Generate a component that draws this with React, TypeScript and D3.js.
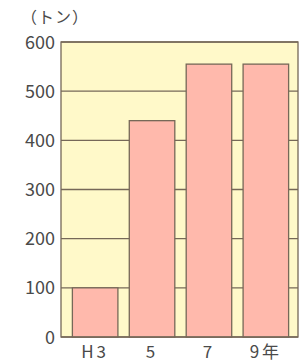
import { useEffect, useRef } from "react";
import * as d3 from "d3";

const categories = ["H3", "5", "7", "9年"];
const values = [100, 440, 555, 555];
const yTicks = [0, 100, 200, 300, 400, 500, 600];
const unitLabel = "（トン）";

const App = () => {
  const ref = useRef<HTMLDivElement>(null);

  useEffect(() => {
    const width = 300;
    const height = 362;
    const left = 61;
    const right = 298;
    const top = 42;
    const bottom = 337;
    const font = "'Noto Sans CJK JP', 'Noto Sans', sans-serif";
    const lineColor = "#766858";

    const x = d3
      .scaleBand<string>()
      .domain(categories)
      .range([left, 300])
      .paddingInner(0.2)
      .paddingOuter(0.2);

    const y = d3.scaleLinear([0, 600], [bottom, top]);

    const svg = d3
      .create("svg")
      .attr("width", width)
      .attr("height", height)
      .attr("viewBox", [0, 0, width, height])
      .style("display", "block")
      .style("background", "#fff");

    // plot background
    svg
      .append("rect")
      .attr("x", left)
      .attr("y", top)
      .attr("width", right - left)
      .attr("height", bottom - top)
      .attr("fill", "#fff9c9");

    // grid lines
    svg
      .append("g")
      .selectAll("line")
      .data(yTicks)
      .join("line")
      .attr("x1", left)
      .attr("x2", right)
      .attr("y1", (d) => y(d))
      .attr("y2", (d) => y(d))
      .attr("stroke", lineColor)
      .attr("stroke-width", 1.3);

    // bars
    svg
      .append("g")
      .selectAll("rect")
      .data(values)
      .join("rect")
      .attr("x", (_, i) => x(categories[i])!)
      .attr("y", (d) => y(d))
      .attr("width", x.bandwidth())
      .attr("height", (d) => y(0) - y(d))
      .attr("fill", "#ffb9ac")
      .attr("stroke", lineColor)
      .attr("stroke-width", 1.3);

    // frame
    svg
      .append("rect")
      .attr("x", left)
      .attr("y", top)
      .attr("width", right - left)
      .attr("height", bottom - top)
      .attr("fill", "none")
      .attr("stroke", lineColor)
      .attr("stroke-width", 1.3);

    // y tick labels
    svg
      .append("g")
      .selectAll("text")
      .data(yTicks)
      .join("text")
      .attr("x", 55)
      .attr("y", (d) => y(d) + 6.5)
      .attr("text-anchor", "end")
      .attr("font-family", font)
      .attr("font-size", 18)
      .attr("fill", "#4a4a4a")
      .text((d) => d);

    // x labels
    svg
      .append("g")
      .selectAll("text")
      .data(categories)
      .join("text")
      .attr("x", (d) => x(d)! + x.bandwidth() / 2)
      .attr("y", 358)
      .attr("text-anchor", "middle")
      .attr("font-family", font)
      .attr("font-size", 17)
      .attr("letter-spacing", 3)
      .attr("fill", "#4a4a4a")
      .text((d) => d);

    svg
      .append("text")
      .attr("x", 21)
      .attr("y", 23)
      .attr("font-family", font)
      .attr("font-size", 16)
      .attr("letter-spacing", 1)
      .attr("fill", "#4a4a4a")
      .text(unitLabel);

    ref.current!.innerHTML = "";
    ref.current!.appendChild(svg.node()!);
  }, []);

  return (
    <div
      ref={ref}
      style={{ position: "fixed", left: 0, top: 0, width: 300, height: 362 }}
    ></div>
  );
};

export default App;
